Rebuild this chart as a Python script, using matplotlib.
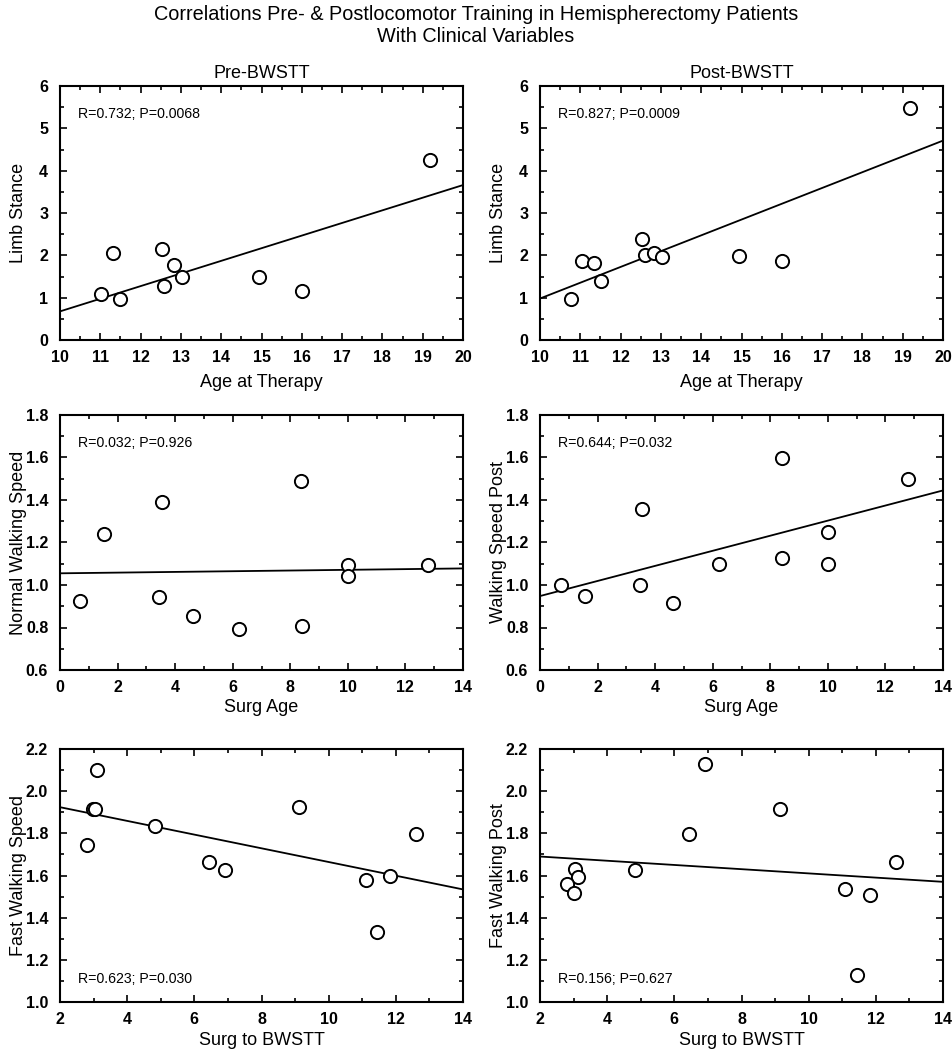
import numpy as np
import matplotlib
matplotlib.use("Agg")
import matplotlib.pyplot as plt
from matplotlib.ticker import MultipleLocator, FormatStrFormatter

plt.rcParams['font.family'] = ['Liberation Sans', 'DejaVu Sans']

# ---- data ----
age_pre = [11.02, 11.31, 11.50, 12.53, 12.59, 12.82, 13.02, 14.93, 16.01, 19.17]
stance_pre = [1.08, 2.06, 0.97, 2.16, 1.28, 1.78, 1.48, 1.48, 1.16, 4.26]
age_post = [10.76, 11.03, 11.33, 11.52, 12.52, 12.60, 12.82, 13.02, 14.93, 16.00, 19.17]
stance_post = [0.98, 1.87, 1.81, 1.39, 2.38, 2.00, 2.06, 1.96, 1.98, 1.87, 5.47]

surg_age_pre = [0.69, 1.53, 3.54, 3.45, 4.62, 6.22, 8.38, 8.41, 10.02, 10.02, 12.80]
normal_speed = [0.923, 1.242, 1.39, 0.942, 0.856, 0.792, 1.49, 0.805, 1.092, 1.043, 1.092]
surg_age_post = [0.72, 1.55, 3.53, 3.47, 4.63, 6.21, 8.39, 8.41, 10.02, 10.02, 12.80]
speed_post = [0.999, 0.947, 1.359, 0.999, 0.917, 1.097, 1.597, 1.127, 1.248, 1.097, 1.497]

surg_bw_pre = [3.10, 2.99, 3.04, 2.80, 4.84, 6.43, 6.90, 9.13, 11.11, 11.82, 11.45, 12.61]
fast_pre = [2.099, 1.915, 1.915, 1.747, 1.835, 1.664, 1.626, 1.927, 1.577, 1.598, 1.334, 1.797]
surg_bw_post = [6.90, 9.14, 6.44, 12.61, 3.04, 3.13, 2.80, 3.01, 4.83, 11.09, 11.82, 11.44]
fast_post = [2.129, 1.915, 1.797, 1.665, 1.629, 1.594, 1.558, 1.515, 1.626, 1.534, 1.509, 1.127]

# regression lines: value at x-min and at x-max of each axis
fit_start = [0.676, 0.98, 1.055, 0.948, 1.924, 1.690]
fit_end = [3.66, 4.71, 1.078, 1.445, 1.534, 1.570]

stats = ["R=0.732; P=0.0068", "R=0.827; P=0.0009",
         "R=0.032; P=0.926", "R=0.644; P=0.032",
         "R=0.623; P=0.030", "R=0.156; P=0.627"]
ylabels = ["Limb Stance", "Limb Stance", "Normal Walking Speed", "Walking Speed Post",
           "Fast Walking Speed", "Fast Walking Post"]
xlabels = ["Age at Therapy", "Age at Therapy", "Surg Age", "Surg Age",
           "Surg to BWSTT", "Surg to BWSTT"]
col_titles = ["Pre-BWSTT", "Post-BWSTT"]

xs = [age_pre, age_post, surg_age_pre, surg_age_post, surg_bw_pre, surg_bw_post]
ys = [stance_pre, stance_post, normal_speed, speed_post, fast_pre, fast_post]

xlims = [(10, 20), (10, 20), (0, 14), (0, 14), (2, 14), (2, 14)]
ylims = [(0, 6), (0, 6), (0.6, 1.8), (0.6, 1.8), (1.0, 2.2), (1.0, 2.2)]
xmaj = [1, 1, 2, 2, 2, 2]
ymaj = [1, 1, 0.2, 0.2, 0.2, 0.2]
yfmt = ["%d", "%d", "%.1f", "%.1f", "%.1f", "%.1f"]
stat_pos = ["top", "top", "top", "top", "bottom", "bottom"]

fig = plt.figure(figsize=(9.52, 10.5), dpi=100)

lefts = [60 / 952, 540 / 952]
width = 403 / 952
rows = [(86, 340), (415, 670), (749, 1002)]
xlabel_y = [-0.134, -0.114, -0.119]

for i in range(6):
    r, c = divmod(i, 2)
    top, bot = rows[r]
    ax = fig.add_axes([lefts[c], 1 - bot / 1050, width, (bot - top) / 1050])
    x0, x1 = xlims[i]
    ax.plot([x0, x1], [fit_start[i], fit_end[i]], color='black', lw=1.3, zorder=2)
    ax.plot(xs[i], ys[i], 'o', mfc='white', mec='black', ms=9.5, mew=1.4, zorder=3,
            clip_on=False)
    ax.set_xlim(*xlims[i])
    ax.set_ylim(*ylims[i])
    ax.xaxis.set_major_locator(MultipleLocator(xmaj[i]))
    ax.xaxis.set_minor_locator(MultipleLocator(xmaj[i] / 2))
    ax.yaxis.set_major_locator(MultipleLocator(ymaj[i]))
    ax.yaxis.set_minor_locator(MultipleLocator(ymaj[i] / 2))
    ax.yaxis.set_major_formatter(FormatStrFormatter(yfmt[i]))
    ax.tick_params(which='both', direction='in', top=True, right=True, width=1.2)
    ax.tick_params(which='major', length=5, labelsize=11.5)
    ax.tick_params(which='minor', length=3)
    ax.tick_params(axis='x', which='major', pad=7.5)
    ax.tick_params(axis='y', which='major', pad=8.5)
    for lab in ax.get_xticklabels() + ax.get_yticklabels():
        lab.set_fontweight('bold')
    for s in ax.spines.values():
        s.set_linewidth(1.5)
    ax.set_xlabel(xlabels[i], fontsize=13)
    ax.set_ylabel(ylabels[i], fontsize=13)
    ax.xaxis.set_label_coords(0.5, xlabel_y[r])
    ax.yaxis.set_label_coords(-0.083, 0.5)
    ty = 0.89 if stat_pos[i] == "top" else 0.09
    ax.text(0.045, ty, stats[i], transform=ax.transAxes, fontsize=10.2, va='center')
    if r == 0:
        ax.set_title(col_titles[c], fontsize=13, pad=6)

fig.text(0.5, 1 - 14 / 1050, "Correlations Pre- & Postlocomotor Training in Hemispherectomy Patients",
         ha='center', va='center', fontsize=14.3)
fig.text(0.5, 1 - 36 / 1050, "With Clinical Variables", ha='center', va='center', fontsize=14.3)

fig.savefig("out.png", dpi=100)
